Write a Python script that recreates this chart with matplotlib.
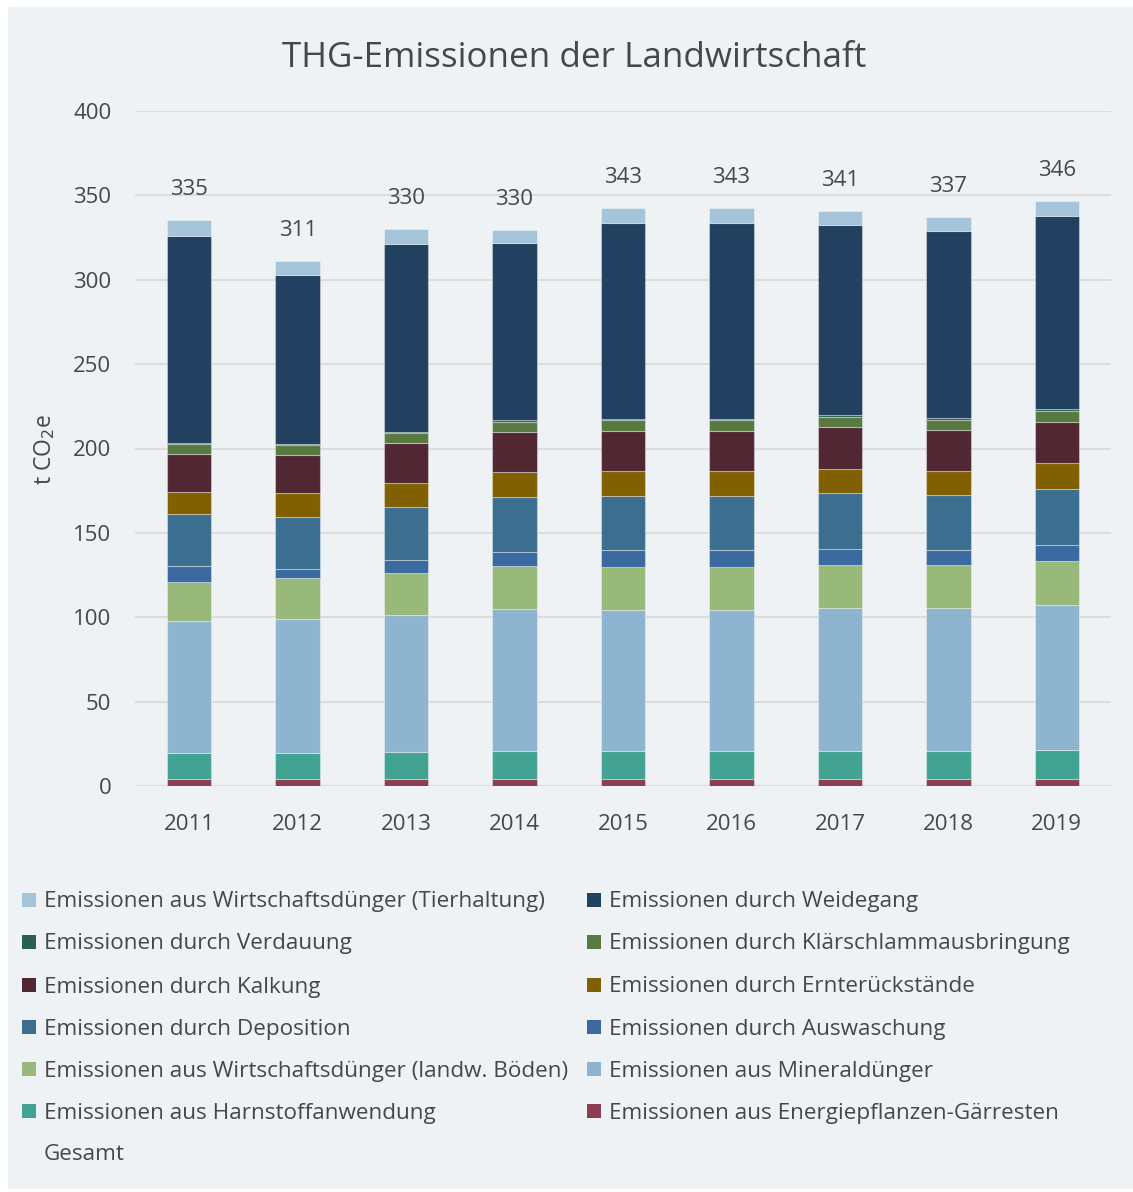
import matplotlib
matplotlib.use("Agg")
import matplotlib.pyplot as plt
from matplotlib.patches import Rectangle
import numpy as np

plt.rcParams['font.family'] = ['Open Sans', 'DejaVu Sans']

years = ["2011", "2012", "2013", "2014", "2015", "2016", "2017", "2018", "2019"]

# series listed top of stack -> bottom of stack (legend order)
series_names = [
    "Emissionen aus Wirtschaftsdünger (Tierhaltung)",
    "Emissionen durch Weidegang",
    "Emissionen durch Verdauung",
    "Emissionen durch Klärschlammausbringung",
    "Emissionen durch Kalkung",
    "Emissionen durch Ernterückstände",
    "Emissionen durch Deposition",
    "Emissionen durch Auswaschung",
    "Emissionen aus Wirtschaftsdünger (landw. Böden)",
    "Emissionen aus Mineraldünger",
    "Emissionen aus Harnstoffanwendung",
    "Emissionen aus Energiepflanzen-Gärresten",
]
series_colors = [
    "#a5c4da", "#22405f", "#2a5e57", "#587a41", "#512733", "#806000",
    "#3c6f8f", "#3a6a9f", "#98b97a", "#8eb4cf", "#43a393", "#8b3e52",
]

tierhaltung   = [9.5, 8.1, 8.7, 7.9, 8.9, 8.9, 8.5, 8.5, 8.7]
weidegang     = [122.6, 99.9, 111.4, 104.9, 116.3, 116.3, 112.8, 110.8, 114.4]
verdauung     = [0.8, 0.8, 1.0, 0.9, 0.8, 0.8, 1.1, 0.8, 1.4]
klaerschlamm  = [5.6, 5.8, 5.7, 5.9, 6.1, 6.1, 6.0, 6.0, 6.1]
kalkung       = [22.7, 22.9, 23.5, 24.1, 23.9, 23.9, 24.7, 24.1, 24.7]
ernte         = [13.4, 13.8, 14.5, 14.8, 14.7, 14.7, 14.5, 14.5, 15.0]
deposition    = [30.6, 31.2, 31.6, 32.6, 32.3, 32.3, 33.1, 32.7, 33.6]
auswaschung   = [9.3, 4.9, 7.7, 8.3, 10.1, 10.1, 9.1, 8.5, 9.1]
landw_boeden  = [23.5, 24.3, 24.9, 25.5, 25.5, 25.5, 25.9, 25.9, 26.0]
mineral       = [78.0, 79.4, 81.0, 83.8, 83.4, 83.4, 84.4, 84.4, 86.0]
harnstoff     = [15.5, 15.8, 16.1, 16.6, 16.4, 16.4, 16.6, 16.6, 17.2]
energie       = [4.0, 4.0, 4.0, 4.3, 4.3, 4.3, 4.3, 4.3, 4.3]

gesamt = [335, 311, 330, 330, 343, 343, 341, 337, 346]

series_values = [tierhaltung, weidegang, verdauung, klaerschlamm, kalkung, ernte,
                 deposition, auswaschung, landw_boeden, mineral, harnstoff, energie]

W, H = 1133, 1192
fig = plt.figure(figsize=(W / 100, H / 100), dpi=100)
fig.patch.set_facecolor("white")
panel_color = "#eef2f5"
fig.patches.append(Rectangle((8 / W, 1 - 1189 / H), (W - 8) / W, (1189 - 7) / H,
                             transform=fig.transFigure, facecolor=panel_color,
                             edgecolor="none", zorder=-10))

ax = fig.add_axes([135 / W, 1 - 786 / H, (1111 - 135) / W, (786 - 111) / H])
ax.set_zorder(5)
ax.patch.set_visible(False)
text_color = "#474747"

x = np.arange(len(years))
bottom = np.zeros(len(years))
for name, vals, col in reversed(list(zip(series_names, series_values, series_colors))):
    v = np.array(vals)
    ax.bar(x, v, bottom=bottom, width=0.41, color=col, edgecolor=(1, 1, 1, 0.35),
           linewidth=0.8, zorder=3)
    bottom += v

for xi, tot, b in zip(x, gesamt, bottom):
    ax.annotate(str(tot), (xi, b), xytext=(0, 22), textcoords="offset points",
                ha="center", va="center", fontsize=16, color=text_color, zorder=4)

ax.set_xlim(-0.5, len(years) - 0.5)
ax.set_ylim(0, 400)
ax.set_yticks(range(0, 401, 50))
ax.set_xticks(x)
ax.set_xticklabels(years)
ax.tick_params(axis="both", length=0, labelsize=16, labelcolor=text_color)
ax.tick_params(axis="y", pad=17)
ax.tick_params(axis="x", pad=20)
for s in ax.spines.values():
    s.set_visible(False)
ax.grid(axis="y", color="#dcdcdc", linewidth=1.5, zorder=0)
ax.set_axisbelow(True)

fig.text(45 / W, 1 - 450 / H, "t CO$_2$e", rotation=90, ha="center", va="center",
         fontsize=16.5, color=text_color)

fig.text(574 / W, 1 - 58 / H, "THG-Emissionen der Landwirtschaft", ha="center",
         va="center", fontsize=25.2, color=text_color)

# legend
row_y = [900, 942, 985, 1027, 1069, 1111, 1153]
col_x = [22, 587]
entries = list(zip(series_names, series_colors)) + [("Gesamt", None)]
for i, (name, col) in enumerate(entries):
    r, c = divmod(i, 2)
    yy = row_y[r]
    xx = col_x[c]
    if col is not None:
        fig.patches.append(Rectangle((xx / W, 1 - (yy + 7) / H), 14 / W, 14 / H,
                                     transform=fig.transFigure, facecolor=col,
                                     edgecolor="none", zorder=2))
    fig.text((xx + 22) / W, 1 - (yy + 2) / H, name, ha="left", va="center",
             fontsize=16.2, color=text_color)

fig.savefig("out.png", dpi=100, facecolor=fig.get_facecolor())
